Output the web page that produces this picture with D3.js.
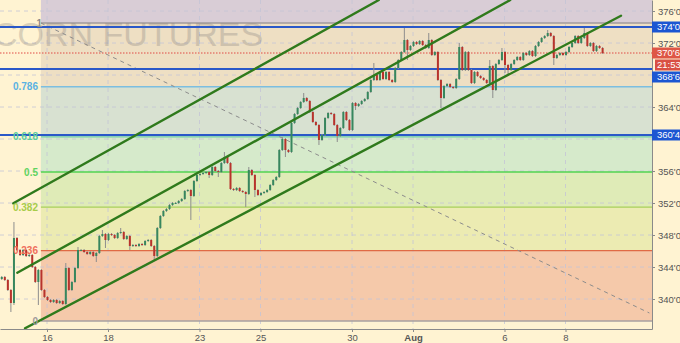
<!DOCTYPE html>
<html><head><meta charset="utf-8">
<script src="https://cdn.jsdelivr.net/npm/d3@7/dist/d3.min.js"></script>
<style>html,body{margin:0;padding:0;background:#fff3d2;} svg{display:block;font-family:"Liberation Sans",Arial,sans-serif;}</style>
</head><body><svg id="c" width="680" height="343"></svg>
<script>
// ---------- data ----------
const dayTickBars = [0, 20, 50, 70, 100, 120, 150, 170];
const dayTickLabels = ["16", "18", "23", "25", "30", "Aug", "6", "8"];
const priceTicks = [376, 372, 364, 356, 352, 348, 344, 340];
const gridPrices = [376, 372, 368, 364, 360, 356, 352, 348, 344, 340];
const START_BAR = -15;
const firstOpen = 342.5;
const closes = [
 342.75,342.375,341.125,339.5,347.625,346.125,345.5,346.125,345.375,345.5,
 344.0,342.125,343.625,341.125,340.25,
 339.875,339.625,339.875,339.5,339.75,339.375,343.875,341.125,342.125,343.875,
 346.125,346.125,345.875,345.625,345.875,345.375,345.75,347.875,348.125,347.375,
 348.125,348.0,347.625,348.25,348.375,347.5,347.875,346.625,346.75,346.625,
 346.875,346.75,347.25,347.375,346.625,345.375,348.875,350.375,351.0,351.25,
 351.75,352.0,352.0,352.25,352.5,353.5,353.625,352.875,354.75,355.5,
 355.625,355.75,355.875,355.5,356.5,356.0,355.875,357.0,357.75,357.0,
 353.75,353.625,353.875,353.5,353.375,353.125,356.125,355.5,353.625,353.0,
 353.25,353.375,353.625,354.25,354.875,355.25,358.625,360.0,358.625,358.375,
 362.0,363.125,363.875,364.625,365.125,364.75,363.375,362.125,361.75,359.875,
 360.5,362.625,363.25,363.125,361.75,360.375,361.375,363.375,362.375,361.125,
 364.5,364.125,364.375,364.75,365.0,365.875,367.375,368.0,367.375,368.375,
 367.5,368.375,367.375,367.125,368.875,369.875,370.875,372.375,371.125,371.625,
 372.125,371.875,372.25,371.75,371.375,372.375,370.5,370.875,367.375,365.125,
 366.625,366.875,366.5,366.375,367.5,371.5,368.625,370.875,368.625,367.0,
 368.375,367.875,367.625,367.375,367.0,369.125,366.125,369.375,369.875,370.875,
 369.25,368.625,369.375,369.875,370.25,369.875,370.75,370.5,371.0,370.375,
 371.625,372.125,372.625,372.875,373.25,372.875,370.125,370.5,370.75,370.5,
 370.875,371.5,372.0,372.875,372.0,372.625,373.25,371.625,372.0,371.0,
 371.625,371.375,370.75
];
// [bar, high, low] for bars with long wicks
const wickOverrides = [
 [-12,null,338.375],[-11,349.625,339.25],[-3,null,339.25],[6,344.5,null],[10,346.5,null],
 [16,null,344.625],[18,348.625,null],[19,null,346.375],[24,348.875,null],[27,null,346.125],
 [35,null,344.875],[47,null,349.875],[53,null,355.125],[56,null,355.25],[58,358.375,null],
 [65,null,351.5],[66,356.5,null],[68,null,352.75],[77,360.25,null],[78,null,357.75],
 [84,365.75,null],[89,null,359.25],[95,null,359.625],[101,null,363.625],[107,369.5,null],
 [117,373.875,null],[118,null,369.875],[125,373.25,null],[129,null,363.875],[135,372.0,null],
 [145,369.875,null],[146,null,365.125],[149,371.375,null],[150,null,368.25],[151,null,368.0],
 [164,373.625,null],[166,null,369.25],[176,373.875,null]
];
const fibLow = 337.25, fibHigh = 374.5, fibStartBar = -2;
const fibLevels = [0, 0.236, 0.382, 0.5, 0.618, 0.786, 1];
const fibLabels = ["0", "0.236", "0.382", "0.5", "0.618", "0.786", "1"];
const fibTrend = [[-2, 374.5], [197.5, 338.25]];
const levelLines = [374, 368.75, 360.5];
const lastPrice = 370.75;
const timerLabel = "21:53";
const channels = [
 [[-11.05, 351.96], [108.8, 377.375]],
 [[-9.74, 343.29], [151.9, 377.375]],
 [[-7.21, 336.34], [188.2, 375.41]]
];
const watermark = "CORN FUTURES";

// ---------- styles ----------
const W = 680, H = 343, PR = 652, PB = 329;
const bandColors = ["#f5c9aa", "#ecebb2", "#dfebb7", "#d6eacb", "#d8e1d1", "#eedfc3"];
const aboveColor = "#d9cdd6";
const fibLineColors = ["#a8a0a0", "#e06a45", "#a8d05a", "#52d352", "#6ccaa8", "#7cbee0", "#a09a9c"];
const fibTextColors = ["#a09a9a", "#ef6f5c", "#a8cc4a", "#5fd35f", "#5ccc9e", "#5ab2e2", "#8a8a8a"];

const svg = d3.select("#c");
const x = d3.scaleLinear().domain([-15.41, 198.36]).range([0, PR]);
const y = d3.scaleLinear().domain([336.25, 377.375]).range([PB, 0]);
const fmt = p => { const f = Math.floor(p); return f + "'" + Math.round((p - f) * 8); };

svg.append("rect").attr("width", W).attr("height", H).attr("fill", "#fff3d2");
svg.append("clipPath").attr("id", "pc").append("rect").attr("width", PR).attr("height", PB);
const g = svg.append("g").attr("clip-path", "url(#pc)");

// fib bands
const fibP = l => fibLow + (fibHigh - fibLow) * l;
const x0 = x(fibStartBar);
g.append("rect").attr("x", x0).attr("y", 0).attr("width", PR - x0).attr("height", y(fibHigh)).attr("fill", aboveColor);
for (let k = 0; k < fibLevels.length - 1; k++) {
  g.append("rect").attr("x", x0).attr("y", y(fibP(fibLevels[k + 1])))
    .attr("width", PR - x0).attr("height", y(fibP(fibLevels[k])) - y(fibP(fibLevels[k + 1])))
    .attr("fill", bandColors[k]);
}
// grid
gridPrices.forEach(p => g.append("line").attr("x1", 0).attr("x2", PR).attr("y1", y(p)).attr("y2", y(p))
  .attr("stroke", "#c4c4d6").attr("stroke-dasharray", "4,4").attr("stroke-width", 0.8));
dayTickBars.forEach(b => g.append("line").attr("x1", x(b)).attr("x2", x(b)).attr("y1", 0).attr("y2", PB)
  .attr("stroke", "#c4c4d6").attr("stroke-dasharray", "4,4").attr("stroke-width", 0.8));
// fib lines
fibLevels.forEach((l, k) => {
  g.append("line").attr("x1", x0).attr("x2", PR).attr("y1", y(fibP(l))).attr("y2", y(fibP(l)))
    .attr("stroke", fibLineColors[k]).attr("stroke-width", 1.3);
});
// fib trend dashed
g.append("line").attr("x1", x(fibTrend[0][0])).attr("y1", y(fibTrend[0][1]))
  .attr("x2", x(fibTrend[1][0])).attr("y2", y(fibTrend[1][1]))
  .attr("stroke", "#8c8c8c").attr("stroke-dasharray", "4,4").attr("stroke-width", 1);
// watermark
g.append("text").attr("x", -7).attr("y", 46).attr("font-size", 34).attr("fill", "#8a8580").attr("opacity", 0.32)
  .text(watermark);
// fib labels
fibLevels.forEach((l, k) => {
  svg.append("text").attr("x", k === 6 ? 42 : 38).attr("y", y(fibP(l))).attr("dy", "0.35em")
    .attr("text-anchor", "end").attr("font-size", 10).attr("font-weight", "bold")
    .attr("fill", fibTextColors[k]).text(fibLabels[k]);
});
// level lines
levelLines.forEach(p => g.append("line").attr("x1", 0).attr("x2", PR).attr("y1", y(p)).attr("y2", y(p))
  .attr("stroke", "#2a58c8").attr("stroke-width", 2));
g.append("line").attr("x1", 0).attr("x2", PR).attr("y1", y(lastPrice)).attr("y2", y(lastPrice))
  .attr("stroke", "#e04a44").attr("stroke-width", 1).attr("stroke-dasharray", "1.5,1.5");

// candles
const ov = new Map(wickOverrides.map(d => [d[0], d]));
const bars = closes.map((c, k) => {
  const i = START_BAR + k;
  const o = k === 0 ? firstOpen : closes[k - 1];
  const w = ov.get(i);
  const hi = w && w[1] != null ? w[1] : Math.max(o, c) + 0.125;
  const lo = w && w[2] != null ? w[2] : Math.min(o, c) - 0.125;
  return { i, o, c, hi, lo };
});
const cg = g.append("g");
cg.selectAll(".wk").data(bars).join("line").attr("class", "wk")
  .attr("x1", d => x(d.i) + 0.5).attr("x2", d => x(d.i) + 0.5)
  .attr("y1", d => y(d.hi)).attr("y2", d => y(d.lo))
  .attr("stroke", "#8d8d8d").attr("stroke-width", 1);
cg.selectAll(".bd").data(bars).join("rect").attr("class", "bd")
  .attr("x", d => x(d.i) - 0.5).attr("width", 2)
  .attr("y", d => y(Math.max(d.o, d.c)))
  .attr("height", d => Math.max(1, Math.abs(y(d.o) - y(d.c))))
  .attr("fill", d => d.c >= d.o ? "#37875e" : "#b8332c");

// channels
channels.forEach(ch => g.append("line").attr("x1", x(ch[0][0])).attr("y1", y(ch[0][1]))
  .attr("x2", x(ch[1][0])).attr("y2", y(ch[1][1]))
  .attr("stroke", "#2f7a1c").attr("stroke-width", 2.4).attr("stroke-linecap", "round"));

// axes
const ay = svg.append("g").attr("transform", `translate(${PR},0)`)
  .call(d3.axisRight(y).tickValues(priceTicks).tickFormat(fmt).tickSize(3).tickPadding(3).tickSizeOuter(0));
const ax = svg.append("g").attr("transform", `translate(0,${PB})`)
  .call(d3.axisBottom(x).tickValues(dayTickBars).tickFormat((d, k) => dayTickLabels[k]).tickSize(3).tickPadding(2).tickSizeOuter(0));
[ay, ax].forEach(a => {
  a.select(".domain").attr("stroke", "#8a8a8a");
  a.selectAll(".tick line").attr("stroke", "#8a8a8a");
  a.selectAll("text").attr("fill", "#555").attr("font-size", 9.5).attr("font-family", "Liberation Sans, Arial, sans-serif");
});
ax.selectAll("text").filter(d => d === 120).attr("font-weight", "bold");

// price tags
function tag(yc, color, txt, x1) {
  svg.append("rect").attr("x", x1).attr("y", yc - 5.5).attr("width", W - x1).attr("height", 11).attr("fill", color);
  svg.append("text").attr("x", 657).attr("y", yc).attr("dy", "0.35em").attr("font-size", 9.5)
    .attr("fill", "#fff").text(txt);
}
levelLines.forEach(p => tag(p === 368.75 ? y(p) + 8 : y(p), "#1c56d2", fmt(p), PR));
tag(y(lastPrice), "#de5646", fmt(lastPrice), PR);
tag(y(lastPrice) + 12, "#d94f43", timerLabel, 655);
</script></body></html>
